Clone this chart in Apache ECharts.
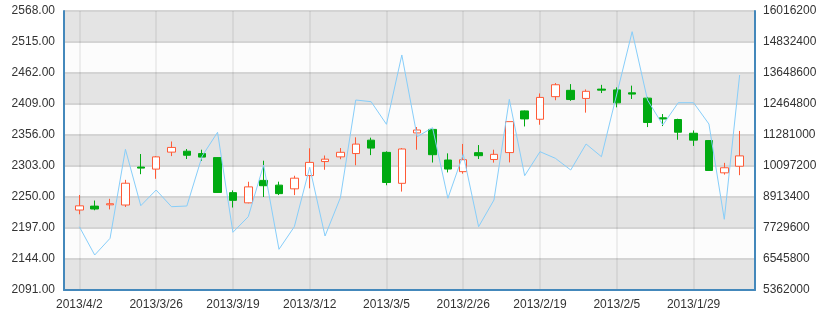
<!DOCTYPE html>
<html>
<head>
<meta charset="utf-8">
<script src="https://cdn.jsdelivr.net/npm/echarts@6/dist/echarts.min.js"></script>
<style>
	html, body { margin: 0; padding: 0; background: #fff; }
	#main { width: 825px; height: 318px; }
</style>
</head>
<body>
<div id="main"></div>
<script>
// newest first, the axis runs from 2013/4/2 back to 2013/1/24
var dates = [
	'2013/4/2', '2013/4/1', '2013/3/29', '2013/3/28', '2013/3/27', '2013/3/26', '2013/3/25', '2013/3/22',
	'2013/3/21', '2013/3/20', '2013/3/19', '2013/3/18', '2013/3/15', '2013/3/14', '2013/3/13', '2013/3/12',
	'2013/3/11', '2013/3/8', '2013/3/7', '2013/3/6', '2013/3/5', '2013/3/4', '2013/3/1', '2013/2/28',
	'2013/2/27', '2013/2/26', '2013/2/25', '2013/2/22', '2013/2/21', '2013/2/20', '2013/2/19', '2013/2/18',
	'2013/2/8', '2013/2/7', '2013/2/6', '2013/2/5', '2013/2/4', '2013/2/1', '2013/1/31', '2013/1/30',
	'2013/1/29', '2013/1/28', '2013/1/25', '2013/1/24'
];
// [open, close, low, high]
var kValues = [
	[2234.9, 2227.74, 2220.44, 2253.42], [2229.46, 2234.4, 2227.31, 2243.95], [2238.49, 2236.62, 2228.81, 2246.87],
	[2273.55, 2236.3, 2232.91, 2279.33], [2299.38, 2301.26, 2289, 2323.48], [2318.58, 2297.67, 2281.12, 2319.99],
	[2334.74, 2326.72, 2319.91, 2344.89], [2321.4, 2328.28, 2314.97, 2332], [2318.21, 2324.24, 2311.6, 2330.81],
	[2257.74, 2317.37, 2257.42, 2317.86], [2244.26, 2257.43, 2232.02, 2261.31], [2267.29, 2240.02, 2239.21, 2276.05],
	[2269.31, 2278.4, 2250, 2312.08], [2255.77, 2270.28, 2253.31, 2276.22], [2282.17, 2263.97, 2253.25, 2286.33],
	[2309.16, 2286.6, 2264.83, 2333.29], [2314.68, 2310.59, 2296.58, 2320.96], [2326.42, 2318.61, 2314.59, 2333.67],
	[2340.44, 2324.29, 2304.27, 2352.02], [2333.61, 2347.18, 2321.6, 2351.44], [2274.81, 2326.31, 2270.1, 2328.14],
	[2332.08, 2273.4, 2259.25, 2333.54], [2364.54, 2359.51, 2330.86, 2369.65], [2322.32, 2365.59, 2308.92, 2366.16],
	[2297.77, 2313.22, 2292.03, 2324.63], [2313.74, 2293.34, 2289.89, 2340.71], [2320.62, 2325.82, 2315.01, 2338.78],
	[2322.94, 2314.16, 2308.76, 2330.88], [2378.82, 2325.95, 2309.17, 2378.82], [2383.49, 2397.18, 2370.61, 2397.94],
	[2420.26, 2382.91, 2373.53, 2427.07], [2441.91, 2421.56, 2415.43, 2444.8], [2416.62, 2432.4, 2414.4, 2443.03],
	[2430.69, 2418.53, 2394.22, 2433.89], [2432.68, 2434.48, 2427.7, 2441.73], [2411, 2433.13, 2403.3, 2437.42],
	[2425.92, 2428.15, 2417.58, 2440.38], [2377.41, 2419.02, 2369.57, 2421.15], [2383.43, 2385.42, 2371.23, 2391.82],
	[2360.75, 2382.48, 2347.89, 2383.76], [2347.22, 2358.98, 2337.35, 2363.8], [2295.35, 2346.5, 2295.35, 2346.92],
	[2300, 2291.3, 2288.26, 2308.38], [2320.26, 2302.6, 2287.3, 2362.94]
];
var volumes = [
	7779000, 6698500, 7336300, 10734900, 8581200, 9180700, 8543000, 8569700,
	10479100, 11384100, 7565400, 8161100, 10135400, 6916200, 7779000, 10047500,
	7424100, 8886700, 12617500, 12552600, 11689600, 14336000, 11216100, 11559800,
	8863700, 10544000, 7779000, 8798800, 12644300, 9726800, 10643300, 10391200,
	9944400, 10937300, 10452300, 12846700, 15225700, 12617500, 11662900, 12514400,
	12514400, 11701000, 8061800, 13572200
];
var priceTicks = { min: 2091, max: 2568, step: 53 };
var volumeTicks = { min: 5362000, max: 16016200, step: 1183800 };

var chart = echarts.init(document.getElementById('main'));

// one empty slot on each side keeps a full step of room at both ends
var xData = [''].concat(dates, ['']);
var kData = ['-'].concat(kValues, ['-']);
var lineData = ['-'].concat(volumes, ['-']);
var showEvery5 = function(index){ return index % 5 === 1; };

var blue = '#4488bb';
var labelStyle = { color: '#333', fontSize: 12, fontFamily: 'Liberation Sans, Arial, sans-serif' };

var option = {
	animation: false,
	backgroundColor: '#fff',
	grid: { left: 64, right: 70, top: 11, bottom: 28 },
	xAxis: {
		type: 'category',
		data: xData,
		boundaryGap: false,
		axisLine: { lineStyle: { color: blue, width: 2 } },
		axisTick: { show: false },
		axisLabel: Object.assign({ interval: showEvery5, margin: 9 }, labelStyle),
		splitLine: { show: true, interval: showEvery5, lineStyle: { color: 'rgba(0,0,0,0.06)', width: 2 } }
	},
	yAxis: [
		{
			type: 'value',
			min: priceTicks.min,
			max: priceTicks.max,
			interval: priceTicks.step,
			axisLine: { show: true, lineStyle: { color: blue, width: 2 } },
			axisTick: { show: false },
			axisLabel: Object.assign({ margin: 9, formatter: function(v){ return v.toFixed(2); } }, labelStyle),
			splitLine: { show: true, lineStyle: { color: '#d4d4d4', width: 2 } },
			splitArea: { show: true, areaStyle: { color: ['#e4e4e4', '#fcfcfc'] } }
		},
		{
			type: 'value',
			min: volumeTicks.min,
			max: volumeTicks.max,
			interval: volumeTicks.step,
			axisLine: { show: true, lineStyle: { color: blue, width: 2 } },
			axisTick: { show: false },
			axisLabel: Object.assign({ margin: 8, formatter: function(v){ return String(Math.round(v)); } }, labelStyle),
			splitLine: { show: false }
		}
	],
	series: [
		{
			type: 'candlestick',
			data: kData,
			barWidth: 8,
			itemStyle: {
				color: '#00aa11',
				color0: '#ffffff',
				borderColor: '#00aa11',
				borderColor0: '#ff5a36',
				borderWidth: 1
			}
		},
		{
			type: 'line',
			yAxisIndex: 1,
			data: lineData,
			symbol: 'none',
			lineStyle: { color: '#87cefa', width: 1 },
			itemStyle: { color: '#87cefa' }
		}
	]
};

chart.setOption(option);
</script>
</body>
</html>
